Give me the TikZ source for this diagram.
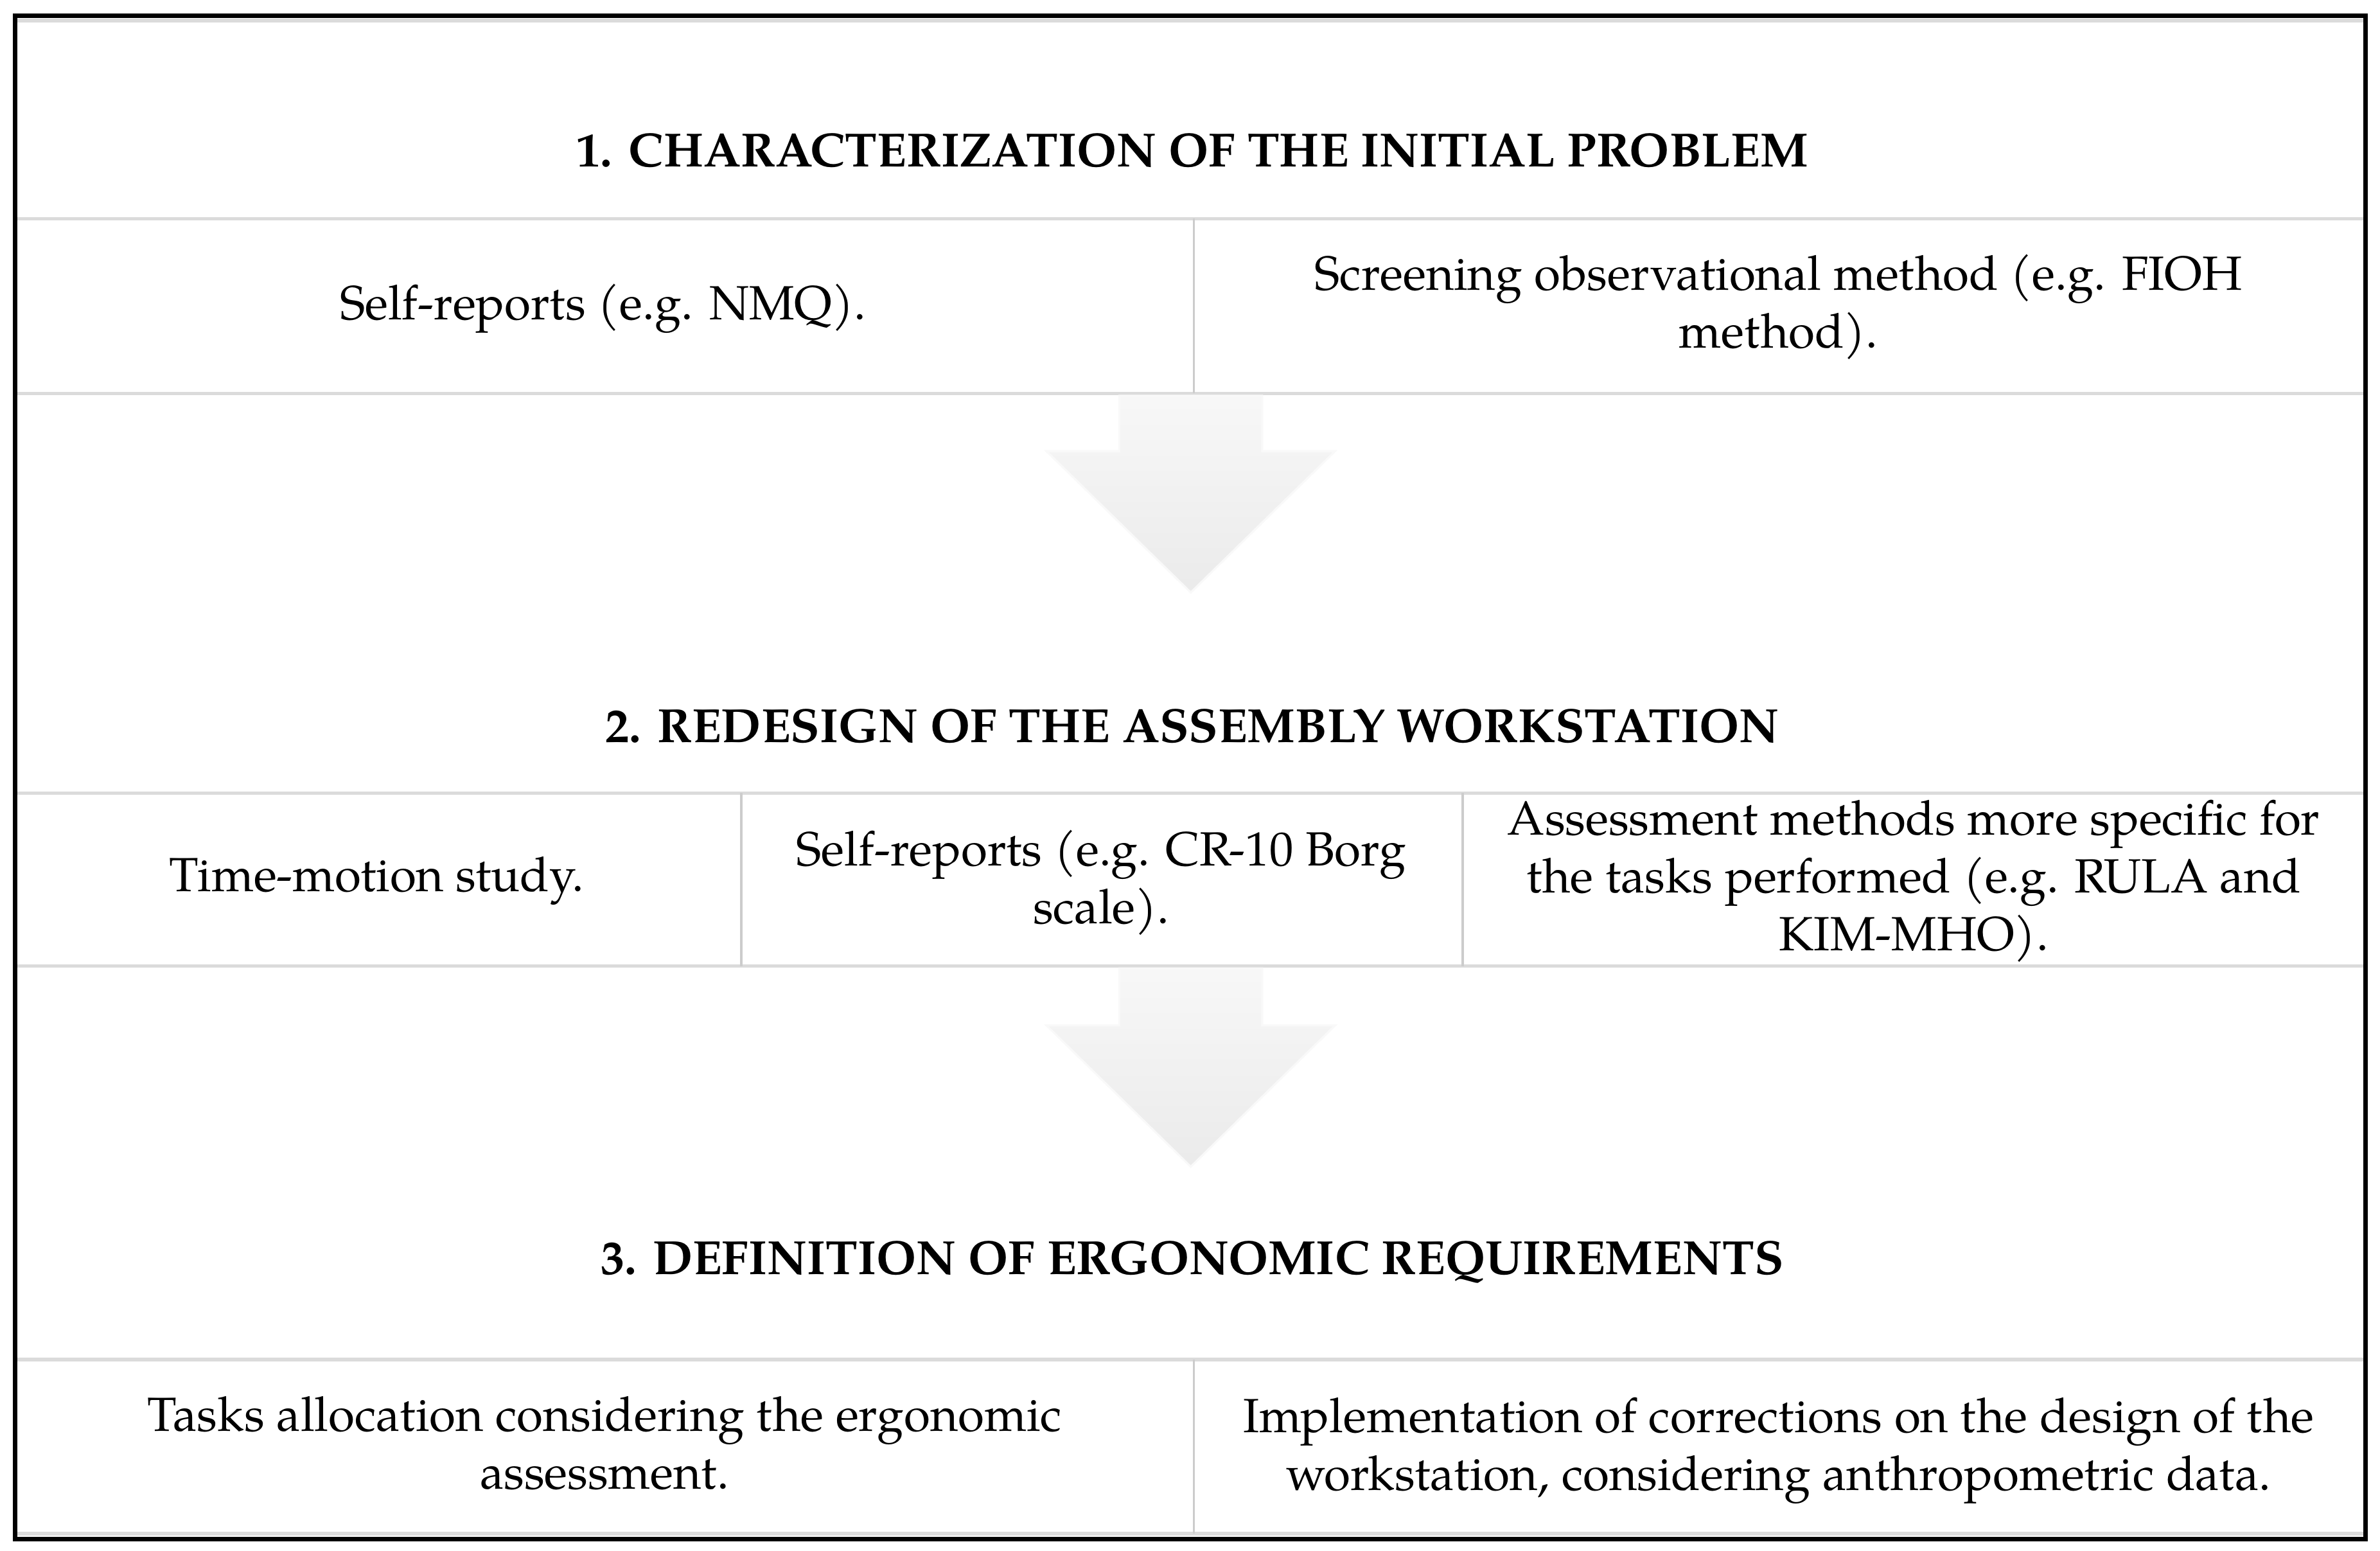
\documentclass[tikz,border=0pt]{standalone}
\usepackage{fontspec}
\setmainfont{TeX Gyre Pagella}
\begin{document}
\begin{tikzpicture}[x=0.38pt,y=-0.38pt,
  frame/.style={line width=1.15pt, black},
  hrule/.style={line width=0.85pt, gray!28},
  vrule/.style={line width=0.6pt, gray!40},
  blockarrow/.style={top color=gray!6, bottom color=gray!16, draw=gray!5, line width=0.5pt},
  heading/.style={font=\fontsize{12}{14.4}\selectfont\bfseries, inner sep=0pt},
  cell/.style={font=\fontsize{12}{14.44}\selectfont, align=center, inner sep=0pt}]
\path[fill=white] (0,0) rectangle (1567,1020.6);
\useasboundingbox (0,0) rectangle (1567,1020.6);
% horizontal rules
\draw[hrule] (10,13.5) -- (1557,13.5);
\draw[hrule] (10,144) -- (1557,144);
\draw[hrule] (10,259) -- (1557,259);
\draw[hrule] (10,522) -- (1557,522);
\draw[hrule] (10,636) -- (1557,636);
\draw[hrule] (10,895) -- (1557,895);
\draw[hrule] (10,1009.5) -- (1557,1009.5);
% vertical rules
\draw[vrule] (786,144) -- (786,259);
\draw[vrule] (488,522) -- (488,636);
\draw[vrule] (963,522) -- (963,636);
\draw[vrule] (786,895) -- (786,1009.5);
% block arrows
\draw[blockarrow] (737,260.5) -- (737,297) -- (689,297) -- (784,390) -- (879,297) -- (831,297) -- (831,260.5) -- cycle;
\draw[blockarrow] (737,637.5) -- (737,675) -- (689,675) -- (784,768) -- (879,675) -- (831,675) -- (831,637.5) -- cycle;
% outer frame
\draw[frame] (10,10.5) rectangle (1557.5,1013);
% headings
\node[heading] (h1) at (785,99) {1. CHARACTERIZATION OF THE INITIAL PROBLEM};
\node[heading] (h2) at (785,478) {2. REDESIGN OF THE ASSEMBLY WORKSTATION};
\node[heading] (h3) at (785,831) {3. DEFINITION OF ERGONOMIC REQUIREMENTS};
% cells
\node[cell] (c11) at (397,203) {Self-reports (e.g. NMQ).};
\node[cell] (c12) at (1171,202) {Screening observational method (e.g. FIOH\\method).};
\node[cell] (c21) at (248,580) {Time-motion study.};
\node[cell] (c22) at (725,581) {Self-reports (e.g. CR-10 Borg\\scale).};
\node[cell] (c23) at (1260,580) {Assessment methods more specific for\\the tasks performed (e.g. RULA and\\KIM-MHO).};
\node[cell] (c31) at (398,950) {Tasks allocation considering the ergonomic\\assessment.};
\node[cell] (c32) at (1171,955) {Implementation of corrections on the design of the\\workstation, considering anthropometric data.};
\end{tikzpicture}
\end{document}
